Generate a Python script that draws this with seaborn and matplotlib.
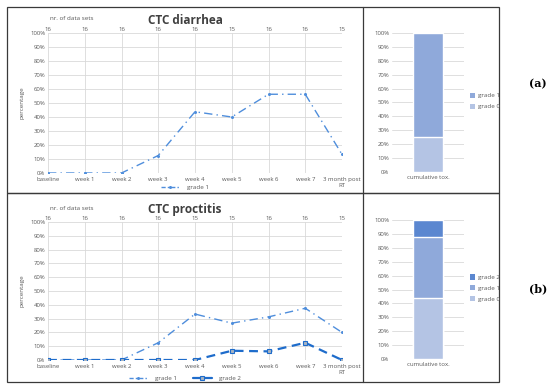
import seaborn as sns
import pandas as pd
import matplotlib.pyplot as plt
from matplotlib.lines import Line2D
from matplotlib.patches import Patch, Rectangle

weeks = ['baseline', 'week 1', 'week 2', 'week 3', 'week 4', 'week 5', 'week 6', 'week 7', '3 month post\nRT']

diarrhea_n = [16, 16, 16, 16, 16, 15, 16, 16, 15]
diarrhea_g1 = [0, 0, 0, 12.5, 43.75, 40.0, 56.25, 56.25, 13.3]
diarrhea_cum = {'grade 0': 25.0, 'grade 1': 75.0}

proctitis_n = [16, 16, 16, 16, 15, 15, 16, 16, 15]
proctitis_g1 = [0, 0, 0, 12.5, 33.3, 26.7, 31.25, 37.5, 20.0]
proctitis_g2 = [0, 0, 0, 0, 0, 6.7, 6.25, 12.5, 0]
proctitis_cum = {'grade 0': 43.75, 'grade 1': 43.75, 'grade 2': 12.5}

sns.set_theme(style='white')
plt.rcParams['font.family'] = ['Open Sans', 'DejaVu Sans']

TXT = '#595959'
GRID = '#D9D9D9'
C1 = '#4F8EDC'
C2 = '#1E6CCB'
BAR_COLORS = {'grade 0': '#B4C4E4', 'grade 1': '#8FA9DA', 'grade 2': '#5B87D0'}

W, H = 550, 388
fig = plt.figure(figsize=(W / 100, H / 100), dpi=100)


def ax_px(x0, y0, x1, y1):
    return fig.add_axes([x0 / W, 1 - y1 / H, (x1 - x0) / W, (y1 - y0) / H])


def style_pct(ax):
    ax.set_ylim(0, 100)
    ax.set_yticks(range(0, 101, 10))
    ax.set_yticklabels([f'{v}%' for v in range(0, 101, 10)], fontsize=4.3, color=TXT)
    ax.yaxis.grid(True, color=GRID, linewidth=0.6)
    for s in ax.spines.values():
        s.set_visible(False)
    ax.tick_params(axis='both', length=0, pad=2)


def line_panel(box, title, n_sets, series, legend_y):
    ax = ax_px(*box)
    x = list(range(len(weeks)))
    for name, vals in series:
        df = pd.DataFrame({'x': x, 'y': vals})
        if name == 'grade 1':
            sns.lineplot(data=df, x='x', y='y', ax=ax, color=C1, linewidth=1.0,
                         linestyle=(0, (6, 3, 1, 3)), marker='o', markersize=2.2,
                         markeredgewidth=0, zorder=3)
        else:
            sns.lineplot(data=df, x='x', y='y', ax=ax, color=C2, linewidth=1.6,
                         linestyle=(0, (4, 2.5)), marker='s', markersize=3,
                         markerfacecolor='#A9B4C2', markeredgecolor=C2,
                         markeredgewidth=0.8, zorder=4)
    ax.set_xlim(0, len(weeks) - 1)
    style_pct(ax)
    ax.xaxis.grid(True, color=GRID, linewidth=0.6)
    ax.set_xticks(x)
    ax.set_xticklabels(weeks, fontsize=4.3, color=TXT, linespacing=1.3)
    ax.tick_params(axis='x', pad=3)
    ax.set_xlabel('')
    ax.set_ylabel('percentage', fontsize=4.5, color=TXT, labelpad=4)
    top = ax.twiny()
    top.set_xlim(ax.get_xlim())
    top.set_xticks(x)
    top.set_xticklabels([str(n) for n in n_sets], fontsize=4.3, color=TXT)
    top.tick_params(axis='x', length=0, pad=1)
    for s in top.spines.values():
        s.set_visible(False)
    fig.text(50 / W, 1 - (box[1] - 14) / H, 'nr. of data sets', fontsize=4.5, color=TXT, va='center')
    fig.text(185 / W, 1 - (box[1] - 12) / H, title, fontsize=8.5, fontweight='bold',
             color='#404040', ha='center', va='center')
    handles = []
    for name, _ in series:
        if name == 'grade 1':
            handles.append(Line2D([], [], color=C1, linewidth=1.0, linestyle=(0, (3, 1.5, 1, 1.5)),
                                  marker='o', markersize=2.2, markeredgewidth=0, label=name))
        else:
            handles.append(Line2D([], [], color=C2, linewidth=1.6, linestyle='-',
                                  marker='s', markersize=3, markerfacecolor='#A9B4C2',
                                  markeredgecolor=C2, markeredgewidth=0.8, label=name))
    fig.legend(handles=handles, loc='center', bbox_to_anchor=(185 / W, 1 - legend_y / H),
               ncol=len(handles), frameon=False, fontsize=4.5, labelcolor=TXT,
               handlelength=3, columnspacing=2.5, handletextpad=1.2)
    return ax


def bar_panel(box, cum, legend_y):
    ax = ax_px(*box)
    order = list(cum.keys())
    totals = []
    acc = 0
    for k in order:
        acc += cum[k]
        totals.append(acc)
    # draw cumulative totals from largest down so they stack visually
    for k, tot in reversed(list(zip(order, totals))):
        sns.barplot(x=['cumulative tox.'], y=[tot], color=BAR_COLORS[k], width=0.5,
                    saturation=1, ax=ax, zorder=3)
    ax.set_xlim(-0.62, 0.62)
    style_pct(ax)
    ax.set_xticks([0])
    ax.set_xticklabels(['cumulative tox.'], fontsize=4.3, color=TXT)
    ax.set_ylabel('')
    handles = [Patch(facecolor=BAR_COLORS[k], edgecolor='none', label=k) for k in reversed(order)]
    fig.legend(handles=handles, loc='center left', bbox_to_anchor=(464 / W, 1 - legend_y / H),
               frameon=False, fontsize=4.5, labelcolor=TXT, handlelength=0.9, handleheight=0.9,
               handletextpad=0.4, labelspacing=0.8)
    return ax


line_panel((48, 33, 342, 173), 'CTC diarrhea', diarrhea_n, [('grade 1', diarrhea_g1)], 187)
bar_panel((392, 33, 464, 172), diarrhea_cum, 101)

line_panel((48, 222, 342, 360), 'CTC proctitis', proctitis_n,
           [('grade 1', proctitis_g1), ('grade 2', proctitis_g2)], 378)
bar_panel((392, 220, 464, 359), proctitis_cum, 288)

# panel borders
for y0, y1 in [(7, 193), (193, 382)]:
    fig.patches.append(Rectangle((7 / W, 1 - y1 / H), (499 - 7) / W, (y1 - y0) / H,
                                 transform=fig.transFigure, fill=False,
                                 edgecolor='#3A3A3A', linewidth=0.9))
    fig.lines.append(Line2D([363 / W, 363 / W], [1 - y1 / H, 1 - y0 / H],
                            transform=fig.transFigure, color='#3A3A3A', linewidth=0.9))

fig.text(538 / W, 1 - 84 / H, '(a)', fontsize=8, fontweight='bold', family='DejaVu Serif',
         ha='center', va='center', color='black')
fig.text(538 / W, 1 - 289 / H, '(b)', fontsize=8, fontweight='bold', family='DejaVu Serif',
         ha='center', va='center', color='black')

fig.savefig('out.png', dpi=100, facecolor='white')
